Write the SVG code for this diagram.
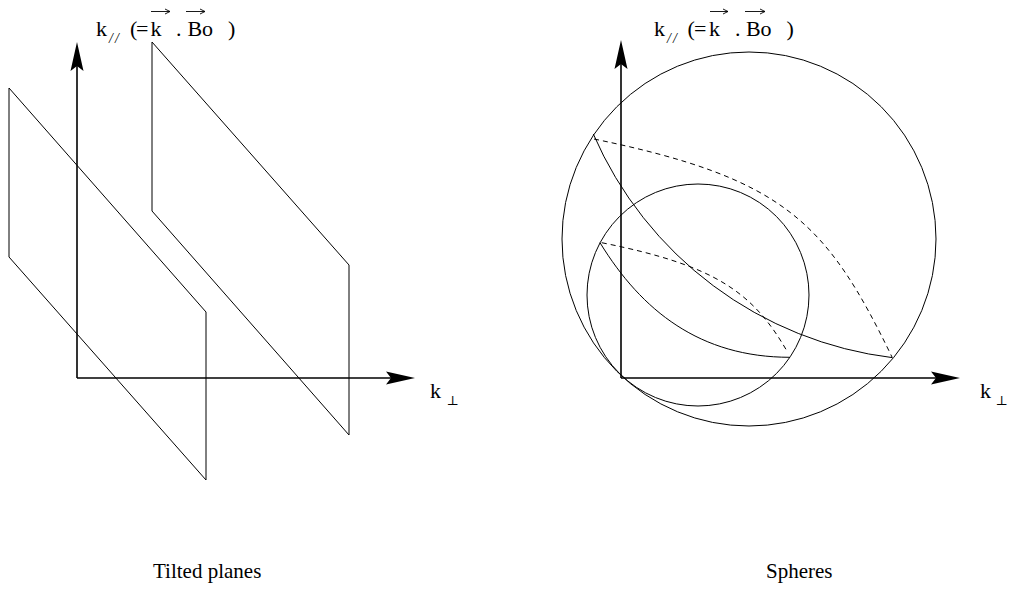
<svg xmlns="http://www.w3.org/2000/svg" width="1010" height="592" viewBox="0 0 1010 592">
<style>
.t{font-family:"Liberation Serif","Times New Roman","DejaVu Serif",serif;font-size:22px;fill:#000}
.cap{font-family:"Liberation Serif","Times New Roman","DejaVu Serif",serif;font-size:21px;fill:#000}
.sub{font-family:"Liberation Serif","DejaVu Serif",serif;font-size:14px;fill:#000}
.perp{font-family:"DejaVu Serif","DejaVu Sans",serif;font-size:13px;fill:#000}
.ln{fill:none;stroke:#000;stroke-width:1}
.ax{fill:none;stroke:#000;stroke-width:1.6}
.ds{fill:none;stroke:#000;stroke-width:1;stroke-dasharray:5,4}
.vec{fill:none;stroke:#000;stroke-width:0.9}
</style>
<rect width="1010" height="592" fill="#fff"/>
<g id="left-planes">
<polygon class="ln" points="9,88 206,312 206,480 9,257"/>
<polygon class="ln" points="152,42 349,265 349,435 152,211"/>
</g>
<g id="connectors">
<line class="ax" x1="77" y1="378" x2="77" y2="66"/>
<polygon points="77,42 70.5,71 77,66 83.5,71" fill="#000"/>
<line class="ax" x1="77" y1="378" x2="391" y2="378"/>
<polygon points="415,378 386,371.5 391,378 386,384.5" fill="#000"/>
<line class="ax" x1="621" y1="378" x2="621" y2="64"/>
<polygon points="621,40 614.5,69 621,64 627.5,69" fill="#000"/>
<line class="ax" x1="621" y1="378" x2="936" y2="378"/>
<polygon points="960,378 931,371.5 936,378 931,384.5" fill="#000"/>
</g>
<g id="right-spheres">
<circle class="ln" cx="749" cy="239" r="187"/>
<circle class="ln" cx="698" cy="295" r="111"/>
<path class="ln" d="M593.3,134 A376,376 0 0 0 892.7,357.7"/>
<path class="ds" d="M594,139 C784,178.1 826.5,222 892,357"/>
<path class="ln" d="M600,242.7 C641.8,310.9 700,357.3 790,357.3"/>
<path class="ds" d="M601.7,242.7 C714.4,265.2 752.6,291.3 787.5,352"/>
</g>
<g id="label-left-axis">
<text class="t" x="96" y="36">k</text>
<text class="sub" x="109" y="43" letter-spacing="2" font-style="italic">//</text>
<text class="t" x="130" y="36">(</text>
<text class="t" x="136" y="36">=</text>
<text class="t" x="150.5" y="36">k</text>
<text class="t" x="176" y="36">.</text>
<text class="t" x="187.5" y="36">B</text>
<text class="t" x="202" y="36">o</text>
<text class="t" x="228" y="36">)</text>
<path class="vec" d="M151,11.5 H170 M165,9 L170,11.5 L165,14"/>
<path class="vec" d="M186,11.5 H205 M200,9 L205,11.5 L200,14"/>
</g>
<g id="label-right-axis">
<text class="t" x="654" y="36">k</text>
<text class="sub" x="667" y="43" letter-spacing="2" font-style="italic">//</text>
<text class="t" x="687.5" y="36">(</text>
<text class="t" x="694" y="36">=</text>
<text class="t" x="709" y="36">k</text>
<text class="t" x="735" y="36">.</text>
<text class="t" x="746" y="36">B</text>
<text class="t" x="760.5" y="36">o</text>
<text class="t" x="786.5" y="36">)</text>
<path class="vec" d="M710,11.5 H728 M723,9 L728,11.5 L723,14"/>
<path class="vec" d="M745,11.5 H765 M760,9 L765,11.5 L760,14"/>
</g>
<g id="label-kperp-left">
<text class="t" x="430" y="398">k</text>
<text class="perp" x="446.5" y="405">⊥</text>
</g>
<g id="label-kperp-right">
<text class="t" x="980" y="398">k</text>
<text class="perp" x="995.5" y="405">⊥</text>
</g>
<g id="captions">
<text class="cap" x="153" y="578">Tilted planes</text>
<text class="cap" x="766" y="578">Spheres</text>
</g>
</svg>
